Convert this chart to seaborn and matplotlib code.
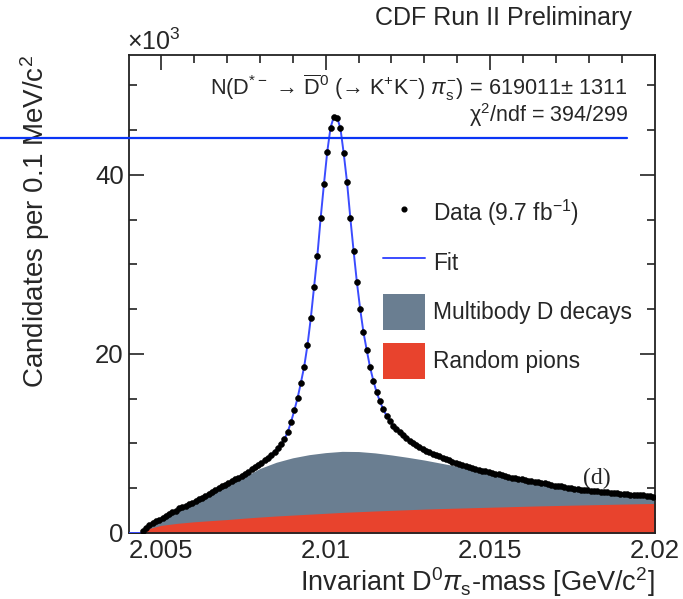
import numpy as np
import pandas as pd
import matplotlib
matplotlib.use("Agg")
import matplotlib.pyplot as plt
import seaborn as sns
from matplotlib.lines import Line2D
from matplotlib.patches import Patch
from matplotlib.ticker import MultipleLocator, FixedLocator, FixedFormatter

# ---------------- data (values in units of 10^3 candidates) ----------------
data_mass = np.round(np.arange(2.00445, 2.01996, 0.0001), 5)
data_vals = [
    0.2, 0.6, 0.9, 1.1, 1.3, 1.5, 1.7, 1.9, 2.1, 2.35,
    2.5, 2.75, 2.9, 3.05, 3.25, 3.4, 3.55, 3.75, 3.95, 4.15,
    4.35, 4.6, 4.85, 5.05, 5.25, 5.4, 5.6, 5.8, 6.0, 6.2,
    6.4, 6.6, 6.85, 7.1, 7.35, 7.6, 7.85, 8.1, 8.4, 8.75,
    9.1, 9.5, 9.95, 10.5, 11.3, 12.4, 13.7, 15.1, 16.8, 18.6,
    21.0, 24.0, 27.5, 31.0, 35.2, 39.0, 42.6, 45.3, 46.5, 46.4,
    45.2, 42.4, 39.2, 35.2, 31.5, 28.0, 25.0, 22.4, 20.4, 18.5,
    17.0, 15.7, 14.7, 13.8, 13.1, 12.5,
    12.0, 11.6, 11.25, 10.9, 10.6, 10.3, 10.05, 9.8, 9.6, 9.4,
    9.2, 9.05, 8.85, 8.7, 8.55, 8.4, 8.25, 8.1, 7.95, 7.85,
    7.75, 7.6, 7.5, 7.4, 7.3, 7.2, 7.05, 6.95, 6.9, 6.8,
    6.7, 6.6, 6.6, 6.45, 6.4, 6.3, 6.2, 6.15, 6.05, 6.0,
    5.95, 5.85, 5.8, 5.7, 5.65, 5.6, 5.55, 5.45, 5.35, 5.3,
    5.25, 5.2, 5.1, 5.05, 5.0, 4.95, 4.95, 4.85, 4.8, 4.75,
    4.7, 4.65, 4.65, 4.6, 4.55, 4.55, 4.5, 4.5, 4.45, 4.4,
    4.4, 4.35, 4.3, 4.3, 4.25, 4.2, 4.2, 4.15, 4.1, 4.05,
]

# fit curve (follows data; zero below threshold)
fit_mass = [2.00404, 2.0044] + list(data_mass)
fit_vals = [0.0, 0.0] + data_vals

# background components
bkg_mass = [2.0044, 2.0045, 2.0050, 2.0055, 2.0060, 2.0065, 2.0070, 2.0075,
            2.0080, 2.0085, 2.0090, 2.0095, 2.0100, 2.0105, 2.0110, 2.0115,
            2.0120, 2.0125, 2.0130, 2.0135, 2.0140, 2.0145, 2.0150, 2.0155,
            2.0160, 2.0165, 2.0170, 2.0175, 2.0180, 2.0185, 2.0190, 2.0195,
            2.0200]
random_pions = [0.0, 0.35, 0.85, 1.08, 1.25, 1.38, 1.5, 1.65,
                1.78, 1.9, 2.0, 2.1, 2.2, 2.3, 2.38, 2.46,
                2.53, 2.6, 2.67, 2.73, 2.78, 2.83, 2.88, 2.93,
                2.98, 3.03, 3.07, 3.11, 3.15, 3.19, 3.23, 3.27,
                3.3]
total_bkg = [0.0, 0.5, 1.5, 2.5, 3.45, 4.4, 5.3, 6.2,
             7.2, 7.9, 8.4, 8.75, 8.98, 9.12, 9.1, 8.95,
             8.72, 8.45, 8.15, 7.8, 7.45, 7.1, 6.6, 6.2,
             5.85, 5.5, 5.15, 4.85, 4.55, 4.35, 4.2, 4.0,
             3.85]

x_ticks = [2.005, 2.01, 2.015, 2.02]
x_ticklabels = ["2.005", "2.01", "2.015", "2.02"]
y_ticks = [0, 20, 40]
y_ticklabels = ["0", "20", "40"]

# ---------------- style ----------------
sns.set_theme(style="ticks")
plt.rcParams['font.family'] = ['Liberation Sans', 'DejaVu Sans']
plt.rcParams['mathtext.fontset'] = 'custom'
plt.rcParams['mathtext.rm'] = 'Liberation Sans'
plt.rcParams['mathtext.it'] = 'Liberation Sans:italic'
plt.rcParams['mathtext.bf'] = 'Liberation Sans:bold'

C_GRAY = '#6a7e91'
C_RED = '#e8432d'
C_FIT = '#3b4cff'
C_HLINE = '#0a35f5'

fig = plt.figure(figsize=(6.83, 5.99), dpi=100)
ax = fig.add_axes([129.3 / 683, 1 - 533 / 599, (655 - 129.3) / 683, (533 - 55) / 599])

df_data = pd.DataFrame({'mass': data_mass, 'cand': data_vals})
df_fit = pd.DataFrame({'mass': fit_mass, 'cand': fit_vals})

ax.fill_between(bkg_mass, 0, total_bkg, color=C_GRAY, lw=0, zorder=1)
ax.fill_between(bkg_mass, 0, random_pions, color=C_RED, lw=0, zorder=2)

sns.lineplot(data=df_fit, x='mass', y='cand', ax=ax, color=C_FIT, lw=1.4,
             sort=False, estimator=None, zorder=3, legend=False)
sns.scatterplot(data=df_data, x='mass', y='cand', ax=ax, color='black', s=18,
                edgecolor='black', linewidth=0.4, zorder=4, legend=False)

ax.set_xlim(2.00404, 2.0200)
ax.set_ylim(0, 53.4)

ax.xaxis.set_major_locator(FixedLocator(x_ticks))
ax.xaxis.set_major_formatter(FixedFormatter(x_ticklabels))
ax.xaxis.set_minor_locator(MultipleLocator(0.001))
ax.yaxis.set_major_locator(FixedLocator(y_ticks))
ax.yaxis.set_major_formatter(FixedFormatter(y_ticklabels))
ax.yaxis.set_minor_locator(MultipleLocator(5))

ax.tick_params(which='both', direction='in', top=True, right=True, color='#222222', width=1.2)
ax.tick_params(which='major', length=11, labelsize=18.5, pad=4)
ax.tick_params(which='minor', length=6)
ax.tick_params(axis='x', which='major', pad=4)
for sp in ax.spines.values():
    sp.set_linewidth(1.3)
    sp.set_color('#222222')

ax.set_xlabel(r"Invariant D$^{0}\pi_{\mathrm{s}}$-mass [GeV/c$^{2}$]", fontsize=19.5, loc='right')
ax.xaxis.set_label_coords(1.0, -0.068)
ax.set_ylabel(r"Candidates per 0.1 MeV/c$^{2}$", fontsize=20, loc='top')
ax.yaxis.set_label_coords(-0.147, 1.0)

# texts
fig.text(632 / 683, 1 - 18 / 599, "CDF Run II Preliminary", fontsize=18, ha='right', va='center')
fig.text(127 / 683, 1 - 42 / 599, r"×10$^{3}$", fontsize=18, ha='left', va='center')
ax.text(0.9486, 0.931,
        r"N(D$^{*-}$ → $\overline{\mathrm{D}}^{0}$ (→ K$^{+}$K$^{-}$) $\pi_{\mathrm{s}}^{-}$) = 619011± 1311",
        transform=ax.transAxes, fontsize=15.7, ha='right', va='center')
ax.text(0.9486, 0.8745, r"χ$^{2}$/ndf = 394/299", transform=ax.transAxes,
        fontsize=15.5, ha='right', va='center')
ax.text(0.889, 0.115, "(d)", transform=ax.transAxes, fontsize=17,
        family=['Liberation Serif', 'DejaVu Serif'], ha='center', va='center')

# stray horizontal line
fig.add_artist(Line2D([0, 627 / 683], [1 - 137.7 / 599] * 2, color=C_HLINE, lw=1.6))

# legend
handles = [
    Line2D([], [], marker='o', color='black', ls='none', markersize=3.4),
    Line2D([], [], color=C_FIT, lw=1.4),
    Patch(facecolor=C_GRAY, edgecolor='none'),
    Patch(facecolor=C_RED, edgecolor='none'),
]
labels = [r"Data (9.7 fb$^{-1}$)", "Fit", "Multibody D decays", "Random pions"]
fig.legend(handles, labels, loc='upper left', bbox_to_anchor=(383 / 683, 1 - 196 / 599),
           frameon=False, fontsize=16.4, handlelength=1.84, handleheight=2.05,
           handletextpad=0.35, labelspacing=0.57, borderpad=0, borderaxespad=0)

fig.savefig("out.png", dpi=100)
